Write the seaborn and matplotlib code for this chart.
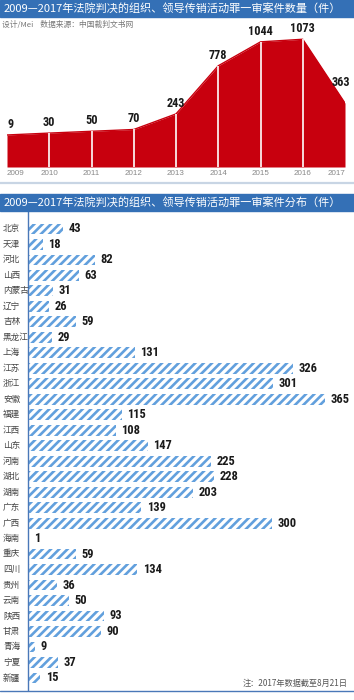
import matplotlib
matplotlib.use('Agg')
import matplotlib.pyplot as plt
import seaborn as sns
import pandas as pd
from matplotlib import font_manager as fm
from matplotlib.patches import Rectangle
from matplotlib.lines import Line2D

# data
years = [2009, 2010, 2011, 2012, 2013, 2014, 2015, 2016, 2017]
cases = [9, 30, 50, 70, 243, 778, 1044, 1073, 363]

provinces = ['北京', '天津', '河北', '山西', '内蒙古', '辽宁', '吉林', '黑龙江',
             '上海', '江苏', '浙江', '安徽', '福建', '江西', '山东', '河南',
             '湖北', '湖南', '广东', '广西', '海南', '重庆', '四川', '贵州',
             '云南', '陕西', '甘肃', '青海', '宁夏', '新疆']
counts = [43, 18, 82, 63, 31, 26, 59, 29, 131, 326, 301, 365, 115, 108, 147, 225,
          228, 203, 139, 300, 1, 59, 134, 36, 50, 93, 90, 9, 37, 15]

title_top = '2009—2017年法院判决的组织、领导传销活动罪一审案件数量（件）'
title_bottom = '2009—2017年法院判决的组织、领导传销活动罪一审案件分布（件）'
credit = '设计/Mei    数据来源：中国裁判文书网'
note = '注：2017年数据截至8月21日'

sns.set_theme(style='white')
plt.rcParams['font.family'] = ['Noto Sans CJK SC', 'DejaVu Sans']
plt.rcParams['hatch.linewidth'] = 1.9

RED = '#c8000e'
BLUE = '#3470b6'
STRIPE = '#62a0dd'

# narrow bold face for the numbers, whatever is installed
fonts = fm.fontManager.ttflist
names = {f.name for f in fonts}
num_kw = {'family': 'Roboto', 'fontweight': 'bold'}
for n in ['Liberation Sans Narrow', 'Roboto Condensed', 'Open Sans Condensed']:
    if n in names:
        num_kw = {'family': n, 'fontweight': 'bold'}
        break
else:
    if any(f.name == 'DejaVu Sans' and f.stretch == 'condensed' and f.weight in ('bold', 700)
           for f in fonts):
        num_kw = {'family': 'DejaVu Sans', 'fontweight': 'bold', 'fontstretch': 'condensed'}

W, H = 354, 700
fig = plt.figure(figsize=(W / 100, H / 100), dpi=100)


def fx(px):
    return px / W


def fy(px):
    return 1 - px / H


# title bars
for top, bot, txt in [(0, 17, title_top), (194, 211, title_bottom)]:
    fig.patches.append(Rectangle((0, fy(bot)), 1, (bot - top) / H,
                                 transform=fig.transFigure, color=BLUE, zorder=0))
    fig.text(fx(4), fy((top + bot) / 2), txt, color='white', fontsize=8.0,
             va='center', ha='left')

fig.text(fx(2), fy(25), credit, color='#777777', fontsize=5.6, va='center')

# ---- area chart ----
ax1 = fig.add_axes([fx(7), fy(167), fx(345 - 7), (167 - 20) / H])
df1 = pd.DataFrame({'year': years, 'cases': cases})
ymin = -347
ax1.fill_between(df1['year'], ymin, df1['cases'], color=RED, lw=0)
sns.lineplot(data=df1, x='year', y='cases', color=RED, lw=1, ax=ax1)
ax1.vlines(years[1:-1], ymin, cases[1:-1], color='white', lw=1.2)
ax1.set_xlim(2009, 2017)
ax1.set_ylim(ymin, 1287)
ax1.set_yticks([])
ax1.set_xticks(years)
ax1.set_xticklabels(years, fontsize=5.8, color='#888888',
                    family=['Liberation Sans', 'DejaVu Sans'])
ax1.tick_params(axis='x', length=0, pad=2)
ax1.get_xticklabels()[0].set_ha('left')
ax1.get_xticklabels()[-1].set_ha('right')
ax1.set_xlabel('')
ax1.set_ylabel('')
for s in ax1.spines.values():
    s.set_visible(False)
ax1.patch.set_alpha(0)

for i, (x, v) in enumerate(zip(years, cases)):
    ha = 'left' if i == 0 else 'center'
    dx = -3 if i == len(years) - 1 else 0
    dy = 10 if i == len(years) - 1 else 3
    ax1.annotate(str(v), (x, v), xytext=(dx, dy), textcoords='offset points',
                 ha=ha, va='bottom', fontsize=8.8, color='#1a1a1a', **num_kw)

fig.add_artist(Line2D([0, 1], [fy(183), fy(183)], color='#c8d5e4', lw=1.6))

# ---- bar chart ----
ax2 = fig.add_axes([fx(28), fy(690), 1 - fx(28), (690 - 211) / H])
df2 = pd.DataFrame({'province': provinces, 'count': counts})
sns.barplot(data=df2, y='province', x='count', orient='h', color='white',
            width=0.7, ax=ax2)
for p in ax2.patches:
    p.set_facecolor('white')
    p.set_edgecolor(STRIPE)
    p.set_linewidth(0)
    p.set_hatch('////')
ax2.bar_label(ax2.containers[0], padding=4, fontsize=9, color='#1a1a1a', **num_kw)
ax2.set_xlim(0, (W - 28) / 0.814)
ax2.set_ylim(len(provinces) - 1 + 0.78, -1.16)
ax2.set_xticks([])
ax2.set_xlabel('')
ax2.set_ylabel('')
ax2.tick_params(axis='y', length=0, pad=0)
ax2.set_yticklabels([])
label_tr = matplotlib.transforms.blended_transform_factory(fig.transFigure, ax2.transData)
for y, name in enumerate(provinces):
    ax2.text(fx(3), y, name, transform=label_tr, fontsize=6.2, color='#444444',
             va='center', ha='left')
for k in ['top', 'right', 'bottom']:
    ax2.spines[k].set_visible(False)
ax2.spines['left'].set_color('#4a78b8')
ax2.spines['left'].set_linewidth(1.0)
ax2.patch.set_alpha(0)

fig.add_artist(Line2D([0, 1], [fy(690.5), fy(690.5)], color='#4a78b8', lw=1.0))
fig.text(fx(348), fy(683), note, color='#555555', fontsize=5.9, ha='right',
         va='center')

fig.savefig('out.png', dpi=100)
